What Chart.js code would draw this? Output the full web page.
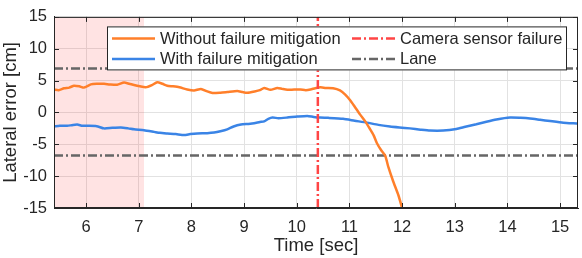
<!DOCTYPE html>
<html lang="en">
<head>
  <meta charset="UTF-8" />
  <title>Lateral error</title>
  <script src="https://cdn.jsdelivr.net/npm/chart.js"></script>
  <style>
    body { margin: 0; background: #fff; }
    #wrap { width: 582px; height: 258px; }
  </style>
</head>
<body>
  <div id="wrap"><canvas id="chart" width="582" height="258"></canvas></div>

  <script>
    const xRange = [5.39, 15.34];
    const xTicks = [6, 7, 8, 9, 10, 11, 12, 13, 14, 15];
    const yTicks = [-15, -10, -5, 0, 5, 10, 15];
    const shadeRange = [5.39, 7.1];
    const failureTime = 10.4;
    const laneY = [6.9, -6.75];

    // orange – without mitigation
    const tWithout = [5.39, 5.48, 5.58, 5.68, 5.77, 5.87, 5.96, 6.09, 6.2, 6.34, 6.45, 6.59, 6.72, 6.82, 6.91,
      7.02, 7.13, 7.25, 7.35, 7.45, 7.54, 7.65, 7.77, 7.92, 8.05, 8.18, 8.3, 8.4, 8.55, 8.68, 8.87, 8.97,
      9.06, 9.2, 9.3, 9.38, 9.5, 9.63, 9.72, 9.82, 9.95, 10.07, 10.17, 10.26, 10.35, 10.45, 10.55, 10.69,
      10.82, 10.92, 11.01, 11.1, 11.2, 11.3, 11.39, 11.46, 11.52, 11.6, 11.68, 11.74, 11.83, 11.93, 12.0];
    const yWithout = [3.6, 3.5, 3.8, 3.9, 4.2, 4.1, 3.9, 4.4, 4.5, 4.5, 4.4, 4.35, 4.7, 4.5, 4.3,
      4.1, 3.95, 4.3, 4.75, 4.5, 4.2, 4.1, 3.95, 3.6, 3.45, 3.7, 3.3, 3.05, 3.1, 3.2, 3.35, 3.2,
      3.1, 3.3, 3.5, 3.85, 3.55, 3.85, 3.7, 3.55, 3.6, 3.6, 3.5, 3.6, 3.8, 3.95, 3.85, 3.8,
      3.45, 2.8, 1.95, 0.9, -0.3, -1.4, -2.6, -3.6, -4.8, -5.9, -6.8, -8.6, -10.8, -13.0, -15.0];

    // blue – with mitigation
    const tWith = [5.39, 5.5, 5.64, 5.73, 5.83, 5.93, 6.03, 6.2, 6.34, 6.5, 6.66, 6.8, 6.91, 7.1, 7.29,
      7.4, 7.54, 7.7, 7.86, 7.98, 8.11, 8.3, 8.43, 8.55, 8.68, 8.8, 8.94, 9.08, 9.19, 9.3, 9.38, 9.46,
      9.54, 9.65, 9.82, 10.01, 10.2, 10.32, 10.44, 10.6, 10.88, 11.1, 11.33, 11.55, 11.77, 11.95, 12.15,
      12.35, 12.53, 12.78, 13.03, 13.2, 13.41, 13.6, 13.79, 14.05, 14.25, 14.43, 14.62, 14.81, 15.06,
      15.25, 15.38];
    const yWith = [-2.2, -2.1, -2.1, -2.0, -1.9, -2.1, -2.1, -2.15, -2.5, -2.4, -2.35, -2.5, -2.65, -2.8, -3.05,
      -3.2, -3.3, -3.4, -3.55, -3.4, -3.3, -3.25, -3.15, -2.95, -2.65, -2.2, -1.9, -1.8, -1.7, -1.5, -1.4, -1.0,
      -0.8, -0.9, -0.8, -0.65, -0.55, -0.7, -0.8, -0.85, -1.0, -1.3, -1.6, -1.95, -2.2, -2.35, -2.5,
      -2.7, -2.85, -2.85, -2.6, -2.25, -1.85, -1.45, -1.1, -0.8, -0.85, -0.95, -1.15, -1.35, -1.6,
      -1.7, -1.75];

    const colors = {
      without: "#ff7f2a",
      with: "#3a84e6",
      failure: "#ff4545",
      lane: "#666666",
      shade: "rgba(255, 0, 0, 0.11)",
      axis: "#262626",
      grid: "#e2e2e2"
    };
    const dashDot = [9, 3, 2, 3];
    const font = "'Liberation Sans', Arial, Helvetica, sans-serif";

    const pts = (xs, ys) => xs.map((x, i) => ({ x: x, y: ys[i] }));

    const legendItems = [
      { text: "Without failure mitigation", color: colors.without, dash: [] },
      { text: "Camera sensor failure", color: colors.failure, dash: dashDot },
      { text: "With failure mitigation", color: colors.with, dash: [] },
      { text: "Lane", color: colors.lane, dash: dashDot }
    ];

    // box, inner ticks and the in-plot legend
    const frame = {
      id: "frame",
      afterDraw(chart) {
        const c = chart.ctx, a = chart.chartArea;
        const xs = chart.scales.x, ys = chart.scales.y;
        c.save();
        c.strokeStyle = colors.axis;
        c.lineWidth = 1;
        c.strokeRect(a.left + 0.5, a.top + 0.5, a.right - a.left - 1, a.bottom - a.top - 1);
        c.beginPath();
        xTicks.forEach(v => {
          const px = Math.round(xs.getPixelForValue(v)) + 0.5;
          c.moveTo(px, a.bottom); c.lineTo(px, a.bottom - 5);
          c.moveTo(px, a.top); c.lineTo(px, a.top + 5);
        });
        yTicks.forEach(v => {
          const py = Math.round(ys.getPixelForValue(v)) + 0.5;
          c.moveTo(a.left, py); c.lineTo(a.left + 5, py);
          c.moveTo(a.right, py); c.lineTo(a.right - 5, py);
        });
        c.stroke();

        // legend
        const bx = a.left + 53, by = a.top + 9.5, bw = 460, bh = 44;
        c.fillStyle = "#fff";
        c.fillRect(bx, by, bw, bh);
        c.strokeRect(bx + 0.5, by + 0.5, bw - 1, bh - 1);
        c.font = "16.5px " + font;
        c.textBaseline = "middle";
        legendItems.forEach((it, i) => {
          const col = i % 2, row = Math.floor(i / 2);
          const lx = bx + 5 + col * 240;
          const ly = by + 12 + row * 20.5;
          c.strokeStyle = it.color;
          c.lineWidth = 2.5;
          c.setLineDash(it.dash);
          c.beginPath();
          c.moveTo(lx, ly); c.lineTo(lx + 43, ly);
          c.stroke();
          c.setLineDash([]);
          c.fillStyle = colors.axis;
          c.fillText(it.text, lx + 48, ly + 1);
        });
        c.restore();
      }
    };

    new Chart(document.getElementById("chart").getContext("2d"), {
      type: "line",
      data: {
        datasets: [
          {
            label: "Camera sensor failure",
            data: [{ x: failureTime, y: -15 }, { x: failureTime, y: 15 }],
            borderColor: colors.failure, borderWidth: 2.5, borderDash: dashDot,
            pointRadius: 0, order: 0
          },
          {
            label: "Without failure mitigation",
            data: pts(tWithout, yWithout),
            borderColor: colors.without, borderWidth: 2.5,
            pointRadius: 0, tension: 0.2, order: 1
          },
          {
            label: "With failure mitigation",
            data: pts(tWith, yWith),
            borderColor: colors.with, borderWidth: 2.5,
            pointRadius: 0, tension: 0.2, order: 2
          },
          {
            label: "Lane",
            data: [{ x: xRange[0], y: laneY[0] }, { x: xRange[1], y: laneY[0] }],
            borderColor: colors.lane, borderWidth: 2.5, borderDash: dashDot,
            pointRadius: 0, order: 3
          },
          {
            label: "Lane (lower)",
            data: [{ x: xRange[0], y: laneY[1] }, { x: xRange[1], y: laneY[1] }],
            borderColor: colors.lane, borderWidth: 2.5, borderDash: dashDot,
            pointRadius: 0, order: 3
          },
          {
            label: "shade",
            data: [{ x: shadeRange[0], y: 15 }, { x: shadeRange[1], y: 15 }],
            borderWidth: 0, borderColor: "rgba(0,0,0,0)",
            backgroundColor: colors.shade, fill: "start",
            pointRadius: 0, order: 4
          }
        ]
      },
      options: {
        responsive: false,
        animation: false,
        layout: { padding: { top: 8, right: 4, left: 0, bottom: 0 } },
        plugins: { legend: { display: false }, tooltip: { enabled: false } },
        scales: {
          x: {
            type: "linear",
            min: xRange[0], max: xRange[1],
            afterBuildTicks: s => { s.ticks = xTicks.map(v => ({ value: v })); },
            afterFit: s => { s.height = 50; },
            grid: { color: colors.grid, drawTicks: false },
            border: { color: colors.axis },
            ticks: { color: colors.axis, padding: 10, font: { family: font, size: 16.5 } },
            title: {
              display: true, text: "Time [sec]", color: colors.axis,
              padding: { top: 0, bottom: 1 }, font: { family: font, size: 18.5 }
            }
          },
          y: {
            min: -15, max: 15,
            afterBuildTicks: s => { s.ticks = yTicks.map(v => ({ value: v })); },
            afterFit: s => { s.width = 54; },
            grid: { color: colors.grid, drawTicks: false },
            border: { color: colors.axis },
            ticks: { color: colors.axis, padding: 7, font: { family: font, size: 16.5 } },
            title: {
              display: true, text: "Lateral error [cm]", color: colors.axis,
              padding: { top: 0, bottom: 0 }, font: { family: font, size: 18.5 }
            }
          }
        }
      },
      plugins: [frame]
    });
  </script>
</body>
</html>
